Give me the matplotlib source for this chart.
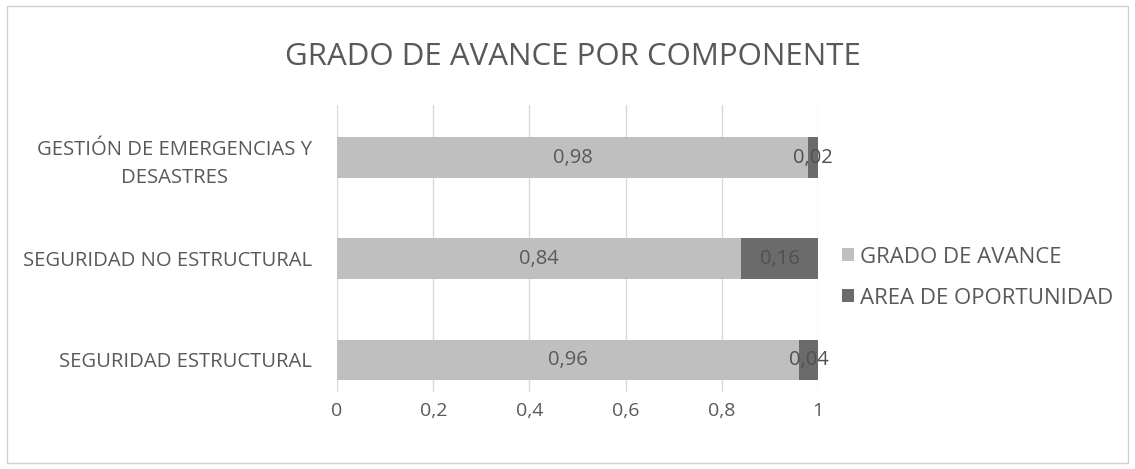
import matplotlib.pyplot as plt
from matplotlib.patches import Rectangle

categories = ["SEGURIDAD ESTRUCTURAL", "SEGURIDAD NO ESTRUCTURAL", "GESTIÓN DE EMERGENCIAS Y\nDESASTRES"]
avance = [0.96, 0.84, 0.98]
oportunidad = [0.04, 0.16, 0.02]
xticks = [0, 0.2, 0.4, 0.6, 0.8, 1]
xtick_labels = ["0", "0,2", "0,4", "0,6", "0,8", "1"]

plt.rcParams['font.family'] = ['Open Sans', 'DejaVu Sans']
txt = "#595959"
c_light = "#bfbfbf"
c_dark = "#6b6b6b"

fig = plt.figure(figsize=(11.35, 4.69), dpi=100)
fig.patches.append(Rectangle((0.006, 0.012), 0.988, 0.975, transform=fig.transFigure,
                             fill=False, edgecolor="#d0d0d0", linewidth=1))
ax = fig.add_axes([0.297, 0.164, 0.4237, 0.612])

y = range(len(categories))
ax.barh(y, avance, height=0.4, color=c_light, label="GRADO DE AVANCE")
ax.barh(y, oportunidad, left=avance, height=0.4, color=c_dark, label="AREA DE OPORTUNIDAD")

for i in y:
    ax.text(avance[i] / 2, i, f"{avance[i]:.2f}".replace(".", ","), ha="center", va="center",
            fontsize=14.5, color=txt)
    ax.text(avance[i] + oportunidad[i] / 2, i, f"{oportunidad[i]:.2f}".replace(".", ","),
            ha="center", va="center", fontsize=14.5, color="#505050")

ax.set_xlim(0, 1)
ax.set_ylim(-0.32, 2.52)
ax.set_xticks(xticks)
ax.set_xticklabels(xtick_labels, fontsize=14)
ax.set_yticks(list(y))
ax.set_yticklabels(categories, multialignment="center", linespacing=1.55, fontsize=14.6)
ax.tick_params(axis="both", length=0, labelcolor=txt)
ax.tick_params(axis="x", pad=7)
ax.tick_params(axis="y", pad=18)
ax.grid(axis="x", color="#d9d9d9", linewidth=1)
ax.set_axisbelow(True)
for s in ax.spines.values():
    s.set_visible(False)

fig.text(0.505, 0.878, "GRADO DE AVANCE POR COMPONENTE", ha="center", va="center",
         fontsize=22.5, color=txt)

fig.legend(loc="center left", bbox_to_anchor=(0.728, 0.408), frameon=False, fontsize=16,
           labelcolor=txt, handlelength=0.55, handleheight=0.55, handletextpad=0.25,
           labelspacing=0.9, borderpad=0.2)

fig.savefig("out.png", dpi=100)
